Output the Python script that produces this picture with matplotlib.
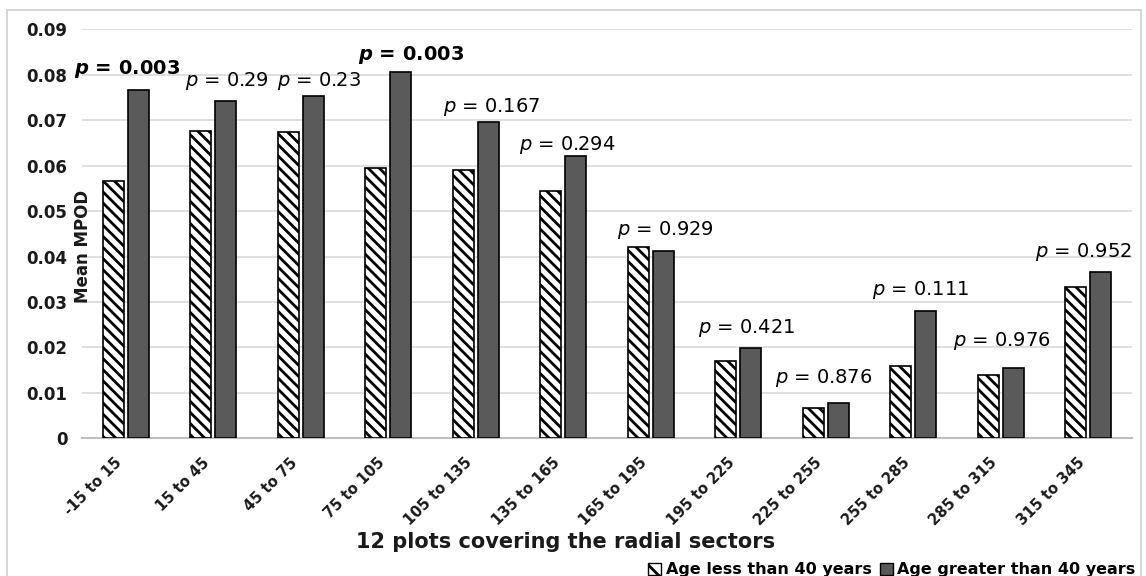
import numpy as np
import matplotlib
matplotlib.use("Agg")
import matplotlib.pyplot as plt
from matplotlib.patches import Patch, Rectangle
from matplotlib.transforms import ScaledTranslation

# Mean MPOD per radial sector, two age groups
sectors = ["-15 to 15", "15 to 45", "45 to 75", "75 to 105", "105 to 135",
           "135 to 165", "165 to 195", "195 to 225", "225 to 255",
           "255 to 285", "285 to 315", "315 to 345"]
under_40 = [0.0566, 0.0676, 0.0673, 0.0594, 0.0590, 0.0545,
            0.0420, 0.0169, 0.0067, 0.0158, 0.0139, 0.0334]
over_40 = [0.0766, 0.0742, 0.0753, 0.0805, 0.0696, 0.0621,
           0.0412, 0.0198, 0.0077, 0.0281, 0.0155, 0.0367]
p_values = ["0.003", "0.29", "0.23", "0.003", "0.167", "0.294",
            "0.929", "0.421", "0.876", "0.111", "0.976", "0.952"]
p_significant = [True, False, False, True, False, False,
                 False, False, False, False, False, False]

# where each p label sits (x shift from group centre, baseline height)
p_dx = [0.01, 0.15, 0.21, 0.26, 0.18, 0.05, 0.17, 0.09, -0.02, 0.08, 0.01, -0.06]
p_y = [0.0802, 0.0775, 0.0775, 0.0833, 0.0719, 0.0634,
       0.0447, 0.0231, 0.0121, 0.0315, 0.0203, 0.0400]

plt.rcParams["font.family"] = "DejaVu Sans"
plt.rcParams["mathtext.fontset"] = "custom"
plt.rcParams["mathtext.rm"] = "DejaVu Sans"
plt.rcParams["mathtext.it"] = "DejaVu Sans:italic"
plt.rcParams["mathtext.bf"] = "DejaVu Sans:italic:bold"
plt.rcParams["hatch.linewidth"] = 2.0

HATCH = "\\" * 3

fig = plt.figure(figsize=(11.46, 5.76), dpi=100)
W, H = 1146, 576
ax = fig.add_axes([82 / W, 1 - 438.3 / H, 1050 / W, (438.3 - 29.3) / H])

x = np.arange(len(sectors))
bw = 0.243
off = 0.143
ax.bar(x - off, under_40, bw, color="white", edgecolor="black", hatch=HATCH,
       linewidth=1.2, zorder=3)
ax.bar(x + off, over_40, bw, color="#5a5a5a", edgecolor="black",
       linewidth=1.2, zorder=3)

for i, (pv, sig) in enumerate(zip(p_values, p_significant)):
    if sig:
        label = r"$\mathbf{p}$ = " + pv
        ax.text(x[i] + p_dx[i], p_y[i], label, ha="center", va="baseline",
                fontsize=14, fontweight="bold", color="black")
    else:
        label = r"$\mathit{p}$ = " + pv
        ax.text(x[i] + p_dx[i], p_y[i], label, ha="center", va="baseline",
                fontsize=14, color="black")

ax.set_xlim(-0.5, len(sectors) - 0.5)
ax.set_ylim(0, 0.09)
ax.set_yticks(np.arange(0, 0.0901, 0.01))
ax.set_yticklabels(["0"] + [f"{v:.2f}" for v in np.arange(0.01, 0.0901, 0.01)],
                   fontsize=12, fontweight="bold", color="#1a1a1a")
ax.tick_params(axis="y", length=0, pad=10.5)
ax.yaxis.grid(True, color="#d9d9d9", linewidth=1.2, zorder=0)
ax.set_axisbelow(True)

ax.set_xticks(x)
ax.set_xticklabels(sectors, rotation=45, ha="right", va="center",
                   rotation_mode="anchor", fontsize=10.5, fontweight="bold",
                   color="#1a1a1a")
ax.tick_params(axis="x", length=0, pad=16)
shift = ScaledTranslation(-6 / 100, 0, fig.dpi_scale_trans)
for lbl in ax.get_xticklabels():
    lbl.set_transform(lbl.get_transform() + shift)

for side in ["top", "right", "left"]:
    ax.spines[side].set_visible(False)
ax.spines["bottom"].set_color("#bfbfbf")
ax.spines["bottom"].set_linewidth(1.5)

fig.text(82.5 / W, 1 - 246 / H, "Mean MPOD", rotation=90, ha="center",
         va="center", fontsize=12, fontweight="bold", color="#1a1a1a")
fig.text(566 / W, 1 - 548 / H, "12 plots covering the radial sectors",
         ha="center", va="baseline", fontsize=15, fontweight="bold",
         color="#1a1a1a")

handles = [Patch(facecolor="white", edgecolor="black", hatch="\\\\", linewidth=1),
           Patch(facecolor="#5a5a5a", edgecolor="black", linewidth=1)]
fig.legend(handles, ["Age less than 40 years", "Age greater than 40 years"],
           loc="lower right", bbox_to_anchor=(1150 / W, -0.027), ncol=2,
           frameon=False, handlelength=0.8, handleheight=0.8,
           handletextpad=0.3, columnspacing=0.5,
           prop={"size": 11.5, "weight": "bold"})

# light frame around the whole chart
fig.patches.append(Rectangle((7 / W, -0.05), 1134 / W, 1.05 - 10 / H,
                             transform=fig.transFigure, fill=False,
                             edgecolor="#d0d0d0", linewidth=1.2))

fig.savefig("out.png", dpi=100)
